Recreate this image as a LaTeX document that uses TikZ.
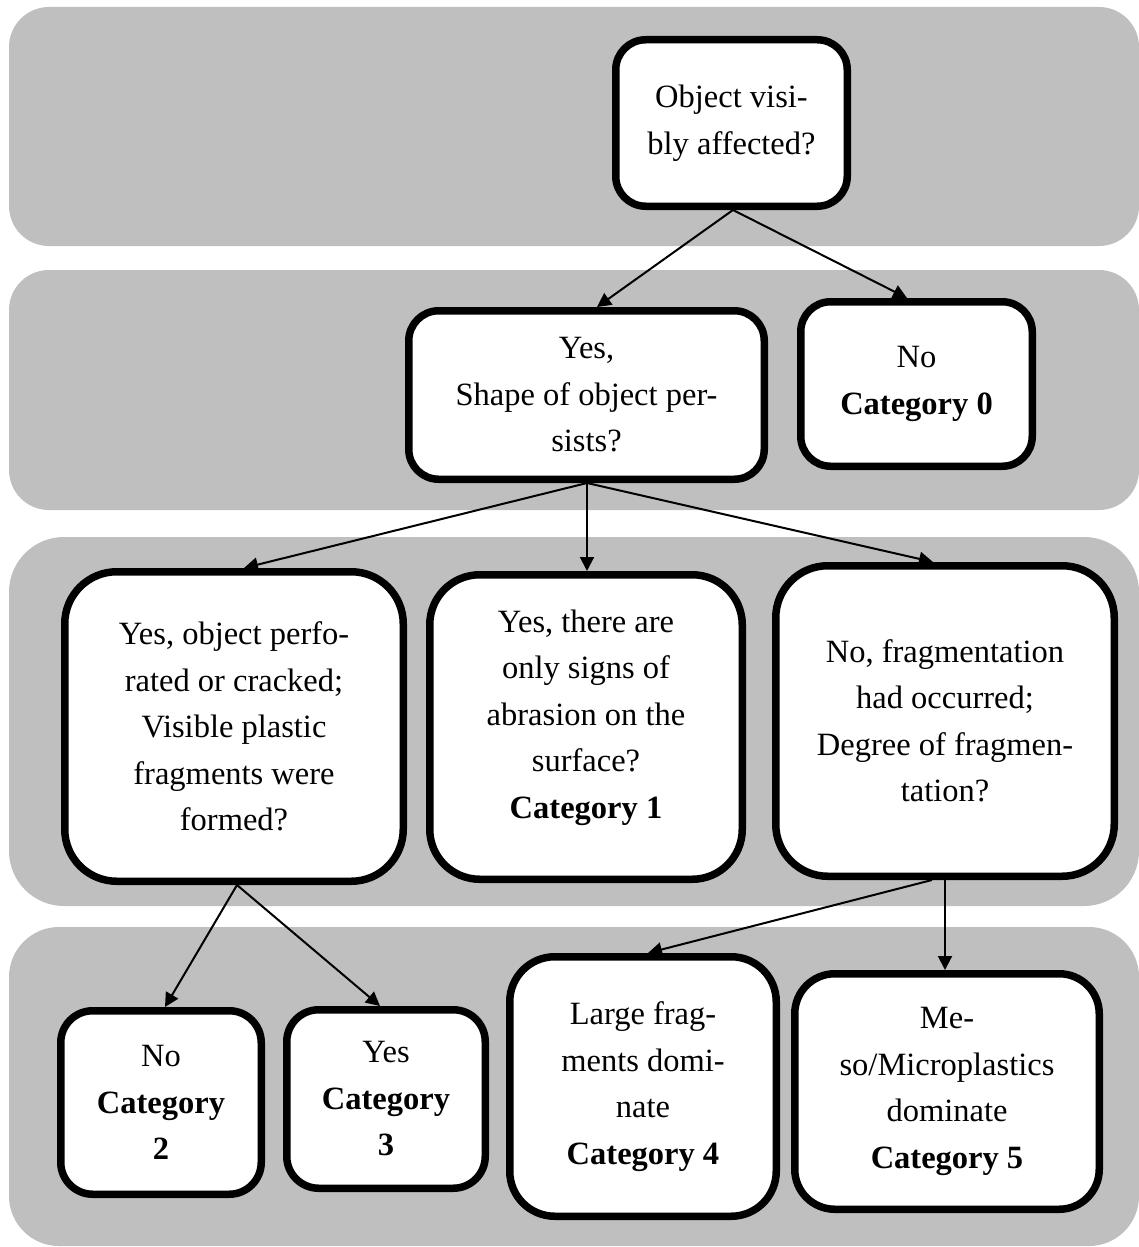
\documentclass[tikz,border=0pt]{standalone}
\usepackage{fontspec}
\setmainfont{Liberation Serif}
\usetikzlibrary{arrows.meta}
\definecolor{bandgray}{HTML}{BFBFBF}
\tikzset{
  band/.style={fill=bandgray, draw=none},
  box/.style={draw=black, fill=white, line width=7.5pt, rounded corners=#1,
    align=center, inner sep=0pt, font=\fontsize{32.5}{46.5}\selectfont},
  box/.default=30pt,
  link/.style={line width=2pt, -{Triangle[length=14pt,width=14pt]}}
}
\begin{document}
\begin{tikzpicture}[x=1pt, y=-1pt]
  \useasboundingbox (0,0) rectangle (1139,1247);

  % background bands, one per decision level
  \fill[band, rounded corners=40pt] (9,7)   rectangle (1139,246);
  \fill[band, rounded corners=40pt] (9,270) rectangle (1139,510);
  \fill[band, rounded corners=55pt] (9,537) rectangle (1139,906);
  \fill[band, rounded corners=50pt] (9,927) rectangle (1139,1246);

  % level 1
  \node[box=30pt, minimum width=231.5pt, minimum height=166.5pt] (A) at (731.5,123)
    {Object visi-\\bly affected?};

  % level 2
  \node[box=30pt, minimum width=355.5pt, minimum height=168.5pt] (B) at (586.5,395)
    {Yes,\\Shape of object per-\\sists?};
  \node[box=30pt, minimum width=231.5pt, minimum height=164.5pt] (C) at (916.5,384)
    {No\\\textbf{Category 0}};

  % level 3
  \node[box=52pt, minimum width=338.5pt, minimum height=309.5pt] (D) at (234,726.5)
    {Yes, object perfo-\\rated or cracked;\\Visible plastic\\fragments were\\formed?};
  \node[box=50pt, minimum width=312.5pt, minimum height=304.5pt, text depth=26pt] (E) at (586,727)
    {Yes, there are\\only signs of\\abrasion on the\\surface?\\\textbf{Category 1}};
  \node[box=52pt, minimum width=338.5pt, minimum height=310.5pt] (F) at (945,721)
    {No, fragmentation\\had occurred;\\Degree of fragmen-\\tation?};

  % level 4
  \node[box=32pt, minimum width=200.5pt, minimum height=183.5pt] (G) at (161,1102.5)
    {No\\\textbf{Category}\\\textbf{2}};
  \node[box=32pt, minimum width=198.5pt, minimum height=178.5pt] (H) at (386,1099)
    {Yes\\\textbf{Category}\\\textbf{3}};
  \node[box=45pt, minimum width=266.5pt, minimum height=259.5pt] (I) at (643,1086.5)
    {Large frag-\\ments domi-\\nate\\\textbf{Category 4}};
  \node[box=40pt, minimum width=304.5pt, minimum height=235.5pt] (J) at (947,1091.5)
    {Me-\\so/Microplastics\\dominate\\\textbf{Category 5}};

  % connectors
  \draw[link] (A.south -| 733,0) -- (B.north -| 597,0);
  \draw[link] (A.south -| 733,0) -- (C.north -| 907,0);

  \draw[link] (B.south -| 587,0) -- (D.north -| 244,0);
  \draw[link] (B.south -| 587,0) -- (E.north -| 587,0);
  \draw[link] (B.south -| 587,0) -- (F.north -| 933,0);

  \draw[link] (D.south -| 237,0) -- (G.north -| 165,0);
  \draw[link] (D.south -| 237,0) -- (H.north -| 380,0);

  \draw[link] (F.south -| 932,0) -- (I.north -| 648,0);
  \draw[link] (F.south -| 945,0) -- (J.north -| 945,0);
\end{tikzpicture}
\end{document}
